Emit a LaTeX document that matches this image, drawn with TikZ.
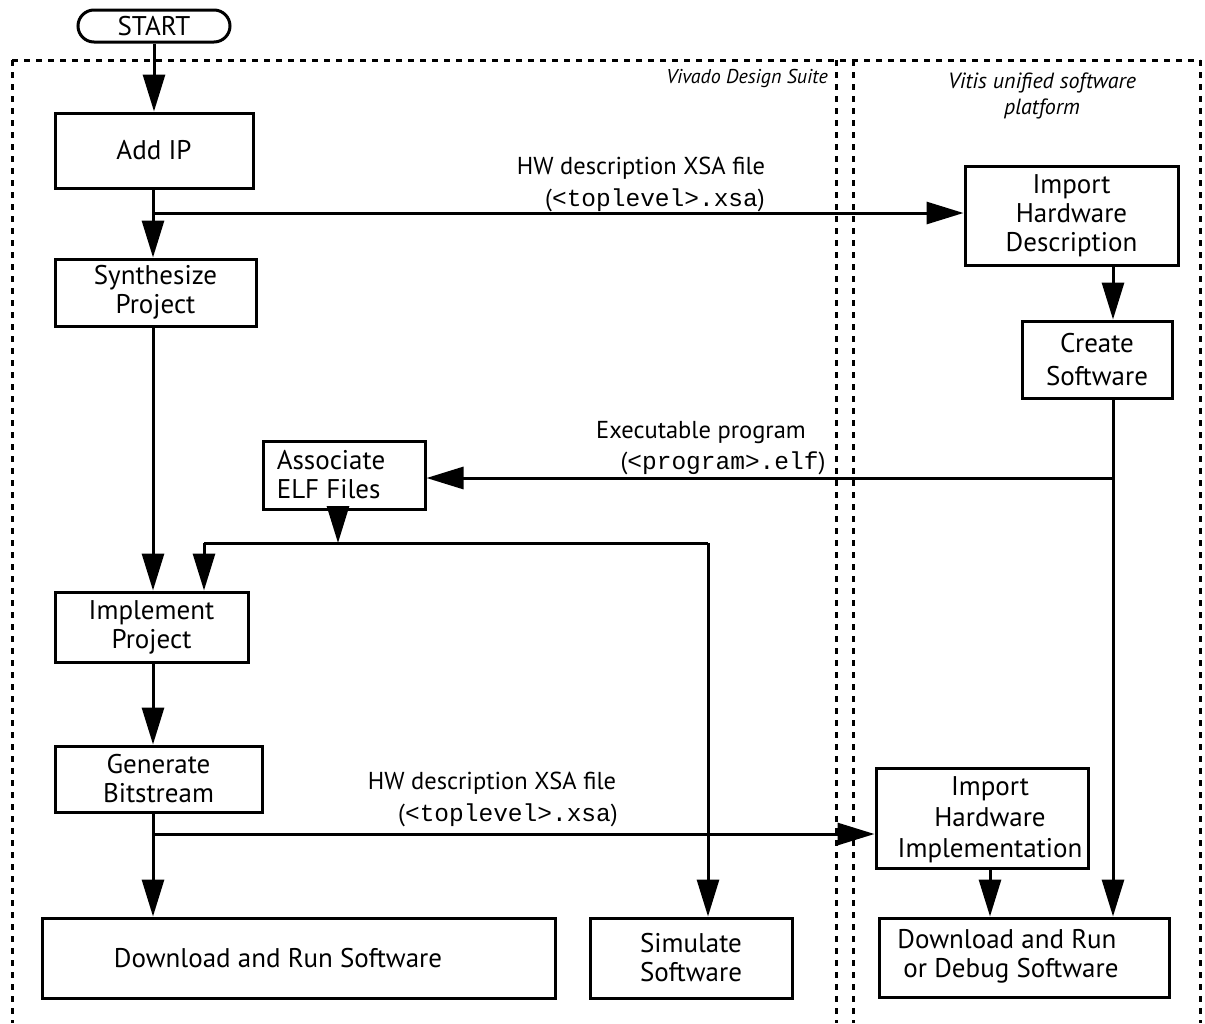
\documentclass[tikz,border=0pt]{standalone}
\usepackage{fontspec}
\setmainfont{PT Sans}
\setmonofont{Liberation Mono}
\usetikzlibrary{arrows.meta,calc}
\begin{document}
\begin{tikzpicture}[x=1pt,y=-1pt,
  box/.style={draw, line width=3pt, rectangle, inner sep=0pt, align=center, font=\fontsize{27}{29}\selectfont},
  txt/.style={inner sep=0pt, align=center, font=\fontsize{27}{29}\selectfont},
  lbl/.style={inner sep=0pt, font=\fontsize{24.5}{26}\selectfont},
  ital/.style={inner sep=0pt, font=\fontsize{21}{26}\selectfont\itshape},
  border/.style={line width=3pt, dash pattern=on 6pt off 6pt},
  conn/.style={line width=3pt},
  arr/.style={line width=3pt, -{Triangle[length=37pt,width=22pt]}}]
\useasboundingbox (0,0) rectangle (1205,1023);
% borders
\draw[border] (12,60) -- (1200,60);
\draw[border] (12,60) -- (12,1023);
\draw[border] (836,60) -- (836,1023);
\draw[border] (853,60) -- (853,1023);
\draw[border] (1200,60) -- (1200,1023);
\node[ital, anchor=east, font=\fontsize{20}{26}\selectfont\itshape] (vivado) at (828,78) {Vivado Design Suite};
\node[ital, align=center, font=\fontsize{22}{26}\selectfont\itshape] (vitis) at (1042,96) {Vitis unified software\\platform};
% nodes
\node[draw, line width=3pt, rounded corners=16pt, minimum width=152pt, minimum height=32pt, inner sep=0pt, font=\fontsize{27}{29}\selectfont] (start) at (154,26) {START};
\node[box, minimum width=198pt, minimum height=75pt] (addip) at (154,150.5) {Add IP};
\node[box, minimum width=201pt, minimum height=67pt] (synth) at (155.5,292.5) {Synthesize\\Project};
\node[box, minimum width=193pt, minimum height=70pt] (impl) at (151.5,627) {Implement\\Project};
\node[box, minimum width=207pt, minimum height=66pt] (gen) at (158.5,779) {Generate\\Bitstream};
\node[box, minimum width=513pt, minimum height=80pt] (dlrun) at (298.5,958) {};
\node[txt] (dlrunT) at (278,958) {Download and Run Software};
\node[box, minimum width=202pt, minimum height=80pt] (sim) at (691,958) {Simulate\\Software};
\node[box, minimum width=213pt, minimum height=99pt] (imphd) at (1071.5,215.5) {Import\\Hardware\\Description};
\node[box, minimum width=150pt, minimum height=77pt, font=\fontsize{27}{33}\selectfont] (create) at (1097,359.5) {Create\\Software};
\node[box, minimum width=162pt, minimum height=68pt] (assoc) at (344,475) {};
\node[txt, align=left] (assocT) at (331,475) {Associate\\ELF Files};
\node[box, minimum width=212pt, minimum height=100pt] (imphi) at (982,818) {};
\node[txt, font=\fontsize{27}{31}\selectfont] (imphiT) at (990,820) {Import\\Hardware\\Implementation};
\node[box, minimum width=290pt, minimum height=79pt] (dldbg) at (1024,957.5) {};
\node[txt, align=left] (dldbgT) at (1008,956) {Download and Run\\\hspace*{6pt}or Debug Software};
% labels
\node[lbl] (l1a) at (641,168) {HW description XSA file};
\node[lbl] (l1b) at (655,200) {(\texttt{<toplevel>.xsa})};
\node[lbl] (l2a) at (701,433) {Executable program};
\node[lbl] (l2b) at (723,463) {(\texttt{<program>.elf})};
\node[lbl] (l3a) at (492,783) {HW description XSA file};
\node[lbl] (l3b) at (508,815) {(\texttt{<toplevel>.xsa})};
% coordinates
\coordinate (b1) at (153,213);
\coordinate (cx) at (1113,0);
\coordinate (b2) at (1113,478);
\coordinate (j1) at (338,543);
\coordinate (jl) at (204,543);
\coordinate (jr) at (708,543);
\coordinate (b3) at (153,834);
% connectors
\draw[arr] (start.south) -- (addip.north);
\draw[arr] (addip.south -| b1) -- (synth.north -| b1);
\draw[arr] (b1) -- (b1 -| imphd.west);
\draw[arr] (imphd.south -| cx) -- (create.north -| cx);
\draw[conn] (create.south -| cx) -- (b2);
\draw[arr] (b2) -- (dldbg.north -| cx);
\draw[arr] (b2) -- (assoc.east |- b2);
\draw[arr] (synth.south -| b1) -- (impl.north -| b1);
\draw[arr] (assoc.south -| j1) -- (j1);
\draw[conn] (jl) -- (jr);
\draw[arr] (jl) -- (impl.north -| jl);
\draw[arr] (jr) -- (sim.north -| jr);
\draw[arr] (impl.south -| b1) -- (gen.north -| b1);
\draw[arr] (gen.south -| b3) -- (dlrun.north -| b3);
\draw[arr] (b3) -- (imphi.west |- b3);
\draw[arr] (imphi.south -| imphiT) -- (dldbg.north -| imphiT);
\end{tikzpicture}
\end{document}
